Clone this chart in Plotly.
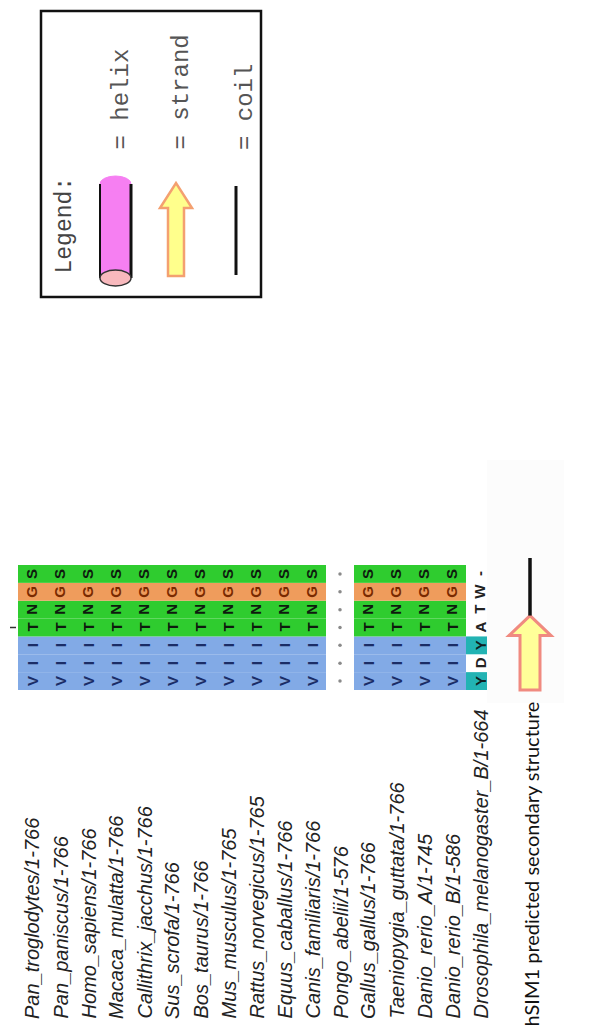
import plotly.graph_objects as go

# ---------------- data ----------------
species = [
    "Pan_troglodytes/1-766",
    "Pan_paniscus/1-766",
    "Homo_sapiens/1-766",
    "Macaca_mulatta/1-766",
    "Callithrix_jacchus/1-766",
    "Sus_scrofa/1-766",
    "Bos_taurus/1-766",
    "Mus_musculus/1-765",
    "Rattus_norvegicus/1-765",
    "Equus_caballus/1-766",
    "Canis_familiaris/1-766",
    "Pongo_abelii/1-576",
    "Gallus_gallus/1-766",
    "Taeniopygia_guttata/1-766",
    "Danio_rerio_A/1-745",
    "Danio_rerio_B/1-586",
    "Drosophila_melanogaster_B/1-664",
]
# residues, first position listed first (drawn bottom -> top)
sequences = [
    "VIITNGS", "VIITNGS", "VIITNGS", "VIITNGS", "VIITNGS", "VIITNGS",
    "VIITNGS", "VIITNGS", "VIITNGS", "VIITNGS", "VIITNGS",
    ":::::::",
    "VIITNGS", "VIITNGS", "VIITNGS", "VIITNGS",
    "YDYATW-",
]
# shading class per residue: B blue, G green, O orange, C teal, . none
shading = [
    "BBBGGOG", "BBBGGOG", "BBBGGOG", "BBBGGOG", "BBBGGOG", "BBBGGOG",
    "BBBGGOG", "BBBGGOG", "BBBGGOG", "BBBGGOG", "BBBGGOG",
    ".......",
    "BBBGGOG", "BBBGGOG", "BBBGGOG", "BBBGGOG",
    "C.C....",
]
secondary = "EEEECCC"          # E strand, C coil (hSIM1 prediction)
legend_labels = ["= helix", "= strand", "= coil"]
title_text = "hSIM1 predicted secondary structure"

# ---------------- styling / layout constants ----------------
W, H = 590, 1027
COL0, COLW = 24, 28            # x centre of first sequence column, column pitch
ROW_BOT, ROWH = 682, 125 / 7   # bottom of alignment block, residue pitch
NAME_Y = 1013

bg = {"B": "#82aae6", "G": "#2fcc2f", "O": "#ef9c5c", "C": "#22b3b3"}
fg = {"B": "#1b2d66", "G": "#0e1a0e", "O": "#7a2a00", "C": "#0e2020", ".": "#222222"}

shapes, annotations = [], []

def colx(i):
    return COL0 + i * COLW

def pos_y(p):
    return ROW_BOT - (p + 0.5) * ROWH

# alignment cells
for i, (seq, sh) in enumerate(zip(sequences, shading)):
    for p, (res, c) in enumerate(zip(seq, sh)):
        if c in bg:
            shapes.append(dict(type="rect", xref="x", yref="y",
                               x0=colx(i) - COLW / 2, x1=colx(i) + COLW / 2,
                               y0=ROW_BOT - (p + 1) * ROWH, y1=ROW_BOT - p * ROWH,
                               fillcolor=bg[c], line=dict(width=0), layer="below"))

# residue letters
gap_x, gap_y = [], []
for i, (seq, sh) in enumerate(zip(sequences, shading)):
    for p, (res, c) in enumerate(zip(seq, sh)):
        if res == ":":
            gap_x.append(colx(i)); gap_y.append(pos_y(p))
            continue
        annotations.append(dict(x=colx(i), y=pos_y(p), xref="x", yref="y",
                                text=res, showarrow=False, textangle=-90,
                                font=dict(family="Liberation Sans", size=15,
                                          color=fg.get(c, "#222"), weight="bold")))

# small tick mark at left
shapes.append(dict(type="line", xref="x", yref="y", x0=2, x1=8,
                   y0=pos_y(3), y1=pos_y(3), line=dict(color="#333", width=1.5)))

# species names
for i, name in enumerate(species):
    annotations.append(dict(x=colx(i), y=NAME_Y, xref="x", yref="y",
                            text=name, showarrow=False, textangle=-90,
                            xanchor="center", yanchor="bottom",
                            font=dict(family="Liberation Sans", size=20,
                                      color="#222222", style="italic")))

# secondary structure track
SSX = colx(len(species)) + 22
shapes.append(dict(type="rect", xref="x", yref="y", x0=SSX - 43, x1=SSX + 34,
                   y0=452, y1=695, fillcolor="#fcfcfc", line=dict(width=0),
                   layer="below"))
strand_pos = [p for p, s in enumerate(secondary) if s == "E"]
coil_pos = [p for p, s in enumerate(secondary) if s == "C"]
if strand_pos:
    yb = ROW_BOT - min(strand_pos) * ROWH
    yt = ROW_BOT - (max(strand_pos) + 1) * ROWH - 3
    yh = yt + 20
    path = (f"M {SSX-10},{yb} L {SSX-10},{yh} L {SSX-21},{yh} L {SSX},{yt} "
            f"L {SSX+21},{yh} L {SSX+10},{yh} L {SSX+10},{yb} Z")
    shapes.append(dict(type="path", xref="x", yref="y", path=path,
                       fillcolor="#ffff99", line=dict(color="#f08a80", width=3)))
if coil_pos:
    yb = ROW_BOT - min(coil_pos) * ROWH - 3
    yt = ROW_BOT - (max(coil_pos) + 1) * ROWH - 7
    shapes.append(dict(type="line", xref="x", yref="y", x0=SSX, x1=SSX,
                       y0=yb, y1=yt, line=dict(color="#111", width=3.5)))

annotations.append(dict(x=SSX, y=1021, xref="x", yref="y", text=title_text,
                        showarrow=False, textangle=-90, xanchor="center",
                        yanchor="bottom",
                        font=dict(family="Lato", size=20, color="#111")))

# ---------------- legend box ----------------
LX0, LX1, LY0, LY1 = 33, 253, 3, 289
shapes.append(dict(type="rect", xref="x", yref="y", x0=LX0, x1=LX1, y0=LY0, y1=LY1,
                   line=dict(color="#111", width=2.5), fillcolor="white", layer="below"))
annotations.append(dict(x=56, y=268, xref="x", yref="y", text="Legend:",
                        showarrow=False, textangle=-90, xanchor="center",
                        yanchor="bottom",
                        font=dict(family="Liberation Mono", size=23, color="#444")))
label_x = [113, 173, 237]
for lx, lab in zip(label_x, legend_labels):
    annotations.append(dict(x=lx, y=144, xref="x", yref="y", text=lab,
                            showarrow=False, textangle=-90, xanchor="center",
                            yanchor="bottom",
                            font=dict(family="Liberation Mono", size=24, color="#555")))

# helix glyph (cylinder)
hx0, hx1 = 92, 123
shapes += [
    dict(type="rect", xref="x", yref="y", x0=hx0, x1=hx1, y0=176, y1=270,
         fillcolor="#f67ff2", line=dict(width=0)),
    dict(type="circle", xref="x", yref="y", x0=hx0, x1=hx1, y0=168, y1=184,
         fillcolor="#f67ff2", line=dict(color="#f67ff2", width=1)),
    dict(type="line", xref="x", yref="y", x0=hx0, x1=hx0, y0=176, y1=270,
         line=dict(color="#111", width=2)),
    dict(type="line", xref="x", yref="y", x0=hx1, x1=hx1, y0=176, y1=270,
         line=dict(color="#111", width=3)),
    dict(type="circle", xref="x", yref="y", x0=hx0, x1=hx1, y0=262, y1=278,
         fillcolor="#f8b9bd", line=dict(color="#333", width=1.5)),
]
# strand glyph
sx = 168
spath = (f"M {sx-8},{268} L {sx-8},{200} L {sx-16},{200} L {sx},{175} "
         f"L {sx+16},{200} L {sx+8},{200} L {sx+8},{268} Z")
shapes.append(dict(type="path", xref="x", yref="y", path=spath,
                   fillcolor="#ffff8c", line=dict(color="#f4a070", width=2.5)))
# coil glyph
shapes.append(dict(type="line", xref="x", yref="y", x0=228, x1=228, y0=178, y1=267,
                   line=dict(color="#111", width=3)))

fig = go.Figure()
fig.add_trace(go.Scatter(x=gap_x, y=gap_y, mode="markers",
                         marker=dict(size=3.5, color="#8a8a8a"),
                         hoverinfo="skip", showlegend=False))
fig.update_layout(
    width=W, height=H, margin=dict(l=0, r=0, t=0, b=0),
    paper_bgcolor="white", plot_bgcolor="white",
    xaxis=dict(range=[0, W], visible=False, fixedrange=True),
    yaxis=dict(range=[H, 0], visible=False, fixedrange=True),
    shapes=shapes, annotations=annotations, showlegend=False,
)
fig.write_html("out.html")
